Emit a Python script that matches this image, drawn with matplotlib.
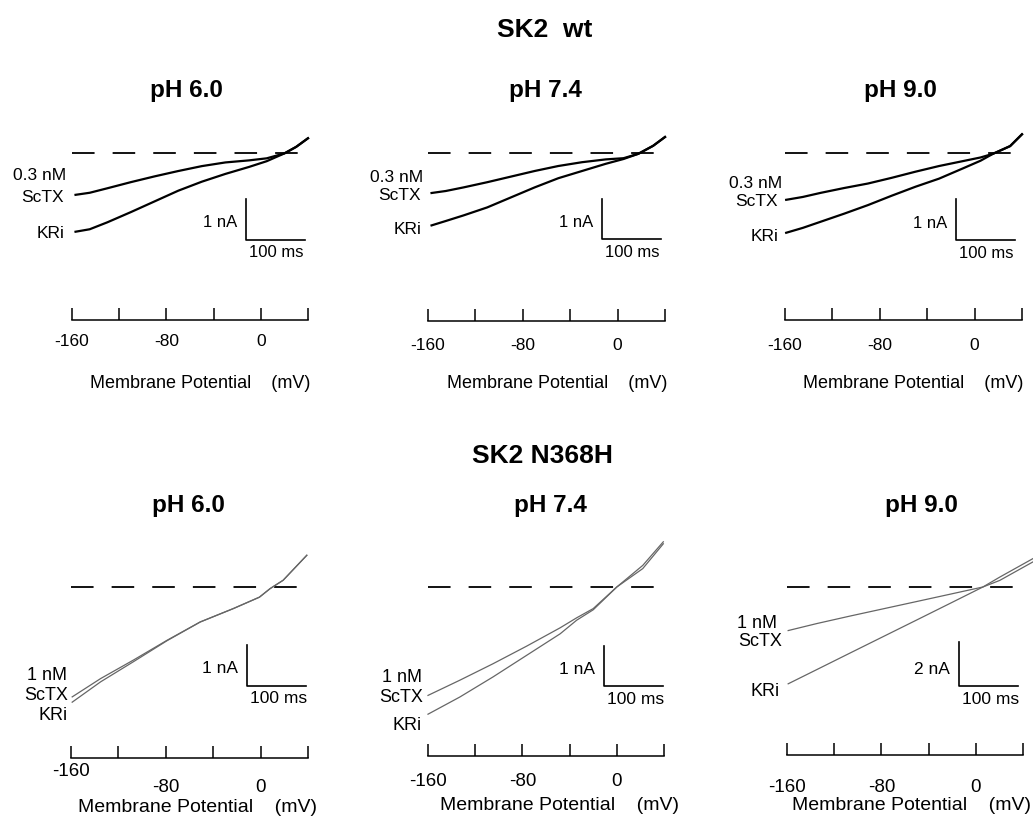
import matplotlib
matplotlib.use("Agg")
import matplotlib.pyplot as plt

plt.rcParams["font.family"] = ["Liberation Sans", "DejaVu Sans"]

# voltage ramp speed, so the 100 ms time bar spans 50 mV on the voltage axis
RAMP_MV_PER_MS = 0.5

tick_mv = [-160, -120, -80, -40, 0, 40]
tick_labels = ["-160", "-80", "0"]

# ---- SK2 wt, currents in nA (KRi control vs 0.3 nM ScTX) ----
wt60_mv = [-157, -145, -130, -110, -90, -70, -50, -30, -10, 5, 20, 30, 40]
wt60_sctx = [-1.02, -0.97, -0.86, -0.71, -0.57, -0.44, -0.32, -0.23, -0.18, -0.13, -0.01, 0.15, 0.36]
wt60_kri = [-1.92, -1.86, -1.69, -1.44, -1.18, -0.92, -0.70, -0.51, -0.34, -0.20, -0.01, 0.15, 0.36]

wt74_mv = [-157, -145, -130, -110, -90, -70, -50, -30, -10, 5, 17.5, 30, 40]
wt74_sctx = [-1.00, -0.95, -0.86, -0.73, -0.59, -0.45, -0.325, -0.23, -0.16, -0.13, -0.02, 0.18, 0.40]
wt74_kri = [-1.81, -1.70, -1.56, -1.36, -1.11, -0.86, -0.63, -0.45, -0.27, -0.15, -0.02, 0.18, 0.40]

wt90_mv = [-159, -145, -130, -110, -90, -70, -50, -30, -10, 5, 15.5, 30, 40]
wt90_sctx = [-1.15, -1.08, -0.98, -0.86, -0.75, -0.61, -0.46, -0.32, -0.20, -0.11, -0.02, 0.17, 0.46]
wt90_kri = [-1.96, -1.84, -1.69, -1.49, -1.28, -1.05, -0.83, -0.63, -0.38, -0.19, -0.02, 0.17, 0.46]

# ---- SK2 N368H (KRi control vs 1 nM ScTX) ----
mu60_mv = [-159, -135, -107, -79, -51, -23, -1, 8, 19, 39]
mu60_sctx = [-2.70, -2.25, -1.79, -1.31, -0.86, -0.53, -0.25, -0.04, 0.165, 0.78]
mu60_kri = [-2.83, -2.33, -1.83, -1.32, -0.86, -0.53, -0.25, -0.04, 0.165, 0.78]

mu74_mv = [-160, -133, -105, -76.5, -48, -34, -20, 0, 22, 39.4]
mu74_sctx = [-2.71, -2.33, -1.92, -1.48, -1.02, -0.77, -0.54, 0.0, 0.54, 1.13]
mu74_kri = [-3.18, -2.75, -2.25, -1.71, -1.17, -0.83, -0.57, 0.0, 0.46, 1.08]

mu90_mv = [-159, -134.6, -106.5, -78.3, -50.1, -22, 6, 20.3, 48.4]
mu90_sctx = [-1.98, -1.66, -1.32, -0.99, -0.66, -0.33, 0.0, 0.30, 1.14]
mu90_kri = [-4.40, -3.75, -3.00, -2.25, -1.50, -0.75, 0.0, 0.45, 1.29]

W, H = 1033, 823

# layout per panel, in image pixels
panels = [
    dict(title="pH 6.0", v=wt60_mv, sctx=wt60_sctx, kri=wt60_kri, dose="0.3 nM", row=0,
         x0=72, x1=308, axis_y=320, zero_y=153, ppn=41, bar=(-12.5, -2.12, 1),
         tick_dy=(21, 21, 21), xlab=(200, 383),
         lab=[(66, 176), (64, 198), (64, 233)], title_xy=(186, 97)),
    dict(title="pH 7.4", v=wt74_mv, sctx=wt74_sctx, kri=wt74_kri, dose="0.3 nM", row=0,
         x0=428, x1=665, axis_y=321, zero_y=153, ppn=40, bar=(-13.0, -2.16, 1),
         tick_dy=(25, 25, 25), xlab=(557, 383),
         lab=[(423, 177), (421, 196), (421, 230)], title_xy=(545, 97)),
    dict(title="pH 9.0", v=wt90_mv, sctx=wt90_sctx, kri=wt90_kri, dose="0.3 nM", row=0,
         x0=785, x1=1022, axis_y=320, zero_y=153, ppn=40.7, bar=(-15.5, -2.14, 1),
         tick_dy=(25, 25, 25), xlab=(913, 383),
         lab=[(782, 184), (778, 201), (778, 237)], title_xy=(900, 97)),
    dict(title="pH 6.0", v=mu60_mv, sctx=mu60_sctx, kri=mu60_kri, dose="1 nM", row=1,
         x0=71, x1=308, axis_y=758, zero_y=587, ppn=40.7, bar=(-11.8, -2.43, 1),
         tick_dy=(13, 30, 30), xlab=(198, 807),
         lab=[(67, 675), (68, 695), (68, 715)], title_xy=(188, 512)),
    dict(title="pH 7.4", v=mu74_mv, sctx=mu74_sctx, kri=mu74_kri, dose="1 nM", row=1,
         x0=428, x1=664, axis_y=756, zero_y=587, ppn=40, bar=(-10.7, -2.48, 1),
         tick_dy=(26, 26, 26), xlab=(560, 805),
         lab=[(422, 678), (423, 697), (422, 725)], title_xy=(550, 512)),
    dict(title="pH 9.0", v=mu90_mv, sctx=mu90_sctx, kri=mu90_kri, dose="1 nM", row=1,
         x0=787, x1=1023, axis_y=755, zero_y=587, ppn=22, bar=(-14.4, -4.5, 2),
         tick_dy=(32, 32, 32), xlab=(912, 805),
         lab=[(777, 624), (782, 642), (780, 692)], title_xy=(921, 512)),
]


def put(x, y, s, **kw):
    fig.text(x / W, 1 - y / H, s, **kw)


fig = plt.figure(figsize=(W / 100, H / 100), dpi=100)

put(545, 37, "SK2  wt", ha="center", va="baseline", fontsize=19, fontweight="bold")
put(542, 463, "SK2 N368H", ha="center", va="baseline", fontsize=19, fontweight="bold")

for p in panels:
    top_y = 125 if p["row"] == 0 else 530
    ax = fig.add_axes([p["x0"] / W, 1 - p["axis_y"] / H,
                       (p["x1"] - p["x0"]) / W, (p["axis_y"] - top_y) / H])
    ax.set_xlim(-160, 40)
    ax.set_ylim(-(p["axis_y"] - p["zero_y"]) / p["ppn"], (p["zero_y"] - top_y) / p["ppn"])
    ax.patch.set_visible(False)
    for s in ["left", "right", "top"]:
        ax.spines[s].set_visible(False)
    ax.spines["bottom"].set_linewidth(1.1)
    ax.set_yticks([])
    ax.set_xticks(tick_mv)
    ax.tick_params(axis="x", direction="in", length=8.5, width=1.1, labelbottom=False)

    big = p["row"] == 1
    axis_fs = 13.5 if big else 12.5
    xlab_fs = 14 if big else 13
    lab_fs = 13 if big else 12.5
    bar_fs = 12.5 if big else 12

    for t, dy in zip(tick_labels, p["tick_dy"]):
        ax.annotate(t, xy=(float(t), 0), xycoords=ax.get_xaxis_transform(),
                    xytext=(0, -dy), textcoords="offset pixels",
                    ha="center", va="center", fontsize=axis_fs)
    put(p["xlab"][0], p["xlab"][1], "Membrane Potential    (mV)",
        ha="center", va="center", fontsize=xlab_fs)

    # zero current
    ax.axhline(0, xmin=0.0, xmax=0.98, color="k", lw=1.3, dashes=(12.5, 10))

    if big:
        kw = dict(color="0.4", lw=0.9)
    else:
        kw = dict(color="k", lw=1.6)
    ax.plot(p["v"], p["sctx"], clip_on=False, **kw)
    ax.plot(p["v"], p["kri"], clip_on=False, **kw)

    # scale bar
    bx, by, bh = p["bar"]
    bw = 100 * RAMP_MV_PER_MS
    ax.plot([bx, bx, bx + bw], [by + bh, by, by], color="k", lw=1.2, clip_on=False)
    ax.annotate(f"{bh} nA", xy=(bx, by), xytext=(-9, 17), textcoords="offset pixels",
                ha="right", va="center", fontsize=bar_fs)
    ax.annotate("100 ms", xy=(bx, by), xytext=(3, -13), textcoords="offset pixels",
                ha="left", va="center", fontsize=bar_fs)

    for (lx, ly), s in zip(p["lab"], [p["dose"], "ScTX", "KRi"]):
        put(lx, ly, s, ha="right", va="center", fontsize=lab_fs)

    put(p["title_xy"][0], p["title_xy"][1], p["title"], ha="center", va="baseline",
        fontsize=17.5, fontweight="bold")

fig.savefig("out.png", dpi=100)
